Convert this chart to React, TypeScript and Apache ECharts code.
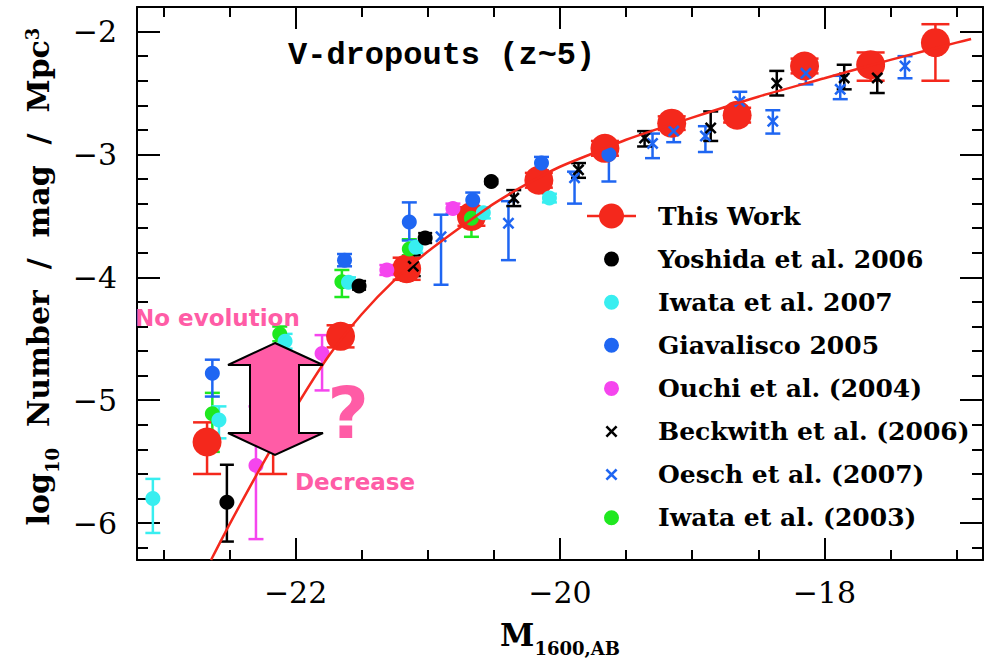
import React, { useEffect, useRef } from 'react';
import * as echarts from 'echarts';

// ---------------- data ----------------
const xMajorTicks = [-22, -20, -18];
const xMinorTicks = [-23, -22.5, -21.5, -21, -20.5, -19.5, -19, -18.5, -17.5, -17];
const yMajorTicks = [-6, -5, -4, -3, -2];
const yMinorTicks = [-6.2, -5.8, -5.6, -5.4, -5.2, -4.8, -4.6, -4.4, -4.2, -3.8, -3.6, -3.4, -3.2, -2.8, -2.6, -2.4, -2.2];

const legendNames = [
  'This Work',
  'Yoshida et al. 2006',
  'Iwata et al. 2007',
  'Giavalisco 2005',
  'Ouchi et al. (2004)',
  'Beckwith et al. (2006)',
  'Oesch et al. (2007)',
  'Iwata et al. (2003)',
];

// [M1600, log10 N, lower end of error bar, upper end of error bar]
const thisWork = [
  [-22.67, -5.34, -5.60, -5.18],
  [-22.17, -5.20, -5.60, -4.95],
  [-21.66, -4.48, -4.57, -4.39],
  [-21.16, -3.93, -4.02, -3.84],
  [-20.67, -3.505, -3.58, -3.43],
  [-20.16, -3.21, -3.27, -3.15],
  [-19.66, -2.95, -3.01, -2.89],
  [-19.155, -2.745, -2.80, -2.69],
  [-18.66, -2.68, -2.74, -2.62],
  [-18.15, -2.28, -2.34, -2.22],
  [-17.65, -2.27, -2.40, -2.17],
  [-17.16, -2.09, -2.40, -1.94],
];
const yoshida2006 = [
  [-22.52, -5.83, -6.15, -5.525],
  [-21.52, -4.07, -4.10, -4.03],
  [-21.02, -3.68, -3.72, -3.64],
  [-20.52, -3.22, -3.24, -3.20],
];
const iwata2007 = [
  [-23.08, -5.80, -6.08, -5.64],
  [-22.58, -5.16, -5.31, -5.05],
  [-22.08, -4.52, -4.58, -4.46],
  [-21.60, -4.04, -4.08, -4.00],
  [-21.09, -3.755, -3.80, -3.71],
  [-20.58, -3.475, -3.52, -3.43],
  [-20.08, -3.355, -3.39, -3.32],
];
const giavalisco2005 = [
  [-22.63, -4.78, -4.97, -4.67],
  [-21.63, -3.86, -3.91, -3.81],
  [-21.14, -3.55, -3.70, -3.39],
  [-20.66, -3.37, -3.45, -3.31],
  [-20.14, -3.07, -3.13, -3.02],
  [-19.63, -3.00, -3.22, -2.90],
];
const ouchi2004 = [
  [-22.30, -5.53, -6.13, -5.05],
  [-21.80, -4.62, -4.92, -4.47],
  [-21.31, -3.94, -3.98, -3.90],
  [-20.81, -3.44, -3.48, -3.40],
];
const beckwith2006 = [
  [-21.11, -3.91, -3.99, -3.82],
  [-20.35, -3.355, -3.42, -3.29],
  [-19.86, -3.125, -3.19, -3.07],
  [-19.36, -2.866, -2.935, -2.81],
  [-18.86, -2.785, -2.89, -2.65],
  [-18.36, -2.42, -2.52, -2.32],
  [-17.85, -2.377, -2.47, -2.27],
  [-17.60, -2.377, -2.50, -2.28],
];
const oesch2007 = [
  [-20.90, -3.67, -4.06, -3.49],
  [-20.39, -3.56, -3.86, -3.38],
  [-19.89, -3.19, -3.40, -3.14],
  [-19.30, -2.91, -3.03, -2.83],
  [-19.14, -2.81, -2.90, -2.73],
  [-18.90, -2.85, -2.98, -2.77],
  [-18.64, -2.57, -2.70, -2.49],
  [-18.39, -2.73, -2.83, -2.64],
  [-18.14, -2.34, -2.43, -2.26],
  [-17.88, -2.47, -2.55, -2.36],
  [-17.39, -2.28, -2.38, -2.20],
];
const iwata2003 = [
  [-22.63, -5.11, -5.42, -4.94],
  [-22.12, -4.46, -4.52, -4.40],
  [-21.65, -4.035, -4.16, -3.94],
  [-21.14, -3.77, -3.82, -3.69],
  [-20.67, -3.52, -3.67, -3.45],
];

// fitted luminosity function curve
const fitM = [-22.64, -22.5, -22.25, -22.0, -21.75, -21.5, -21.25, -21.0, -20.75, -20.5, -20.25, -20.0, -19.75, -19.5, -19.0, -18.5, -18.0, -17.5, -17.0, -16.89];
const fitLogN = [-6.30, -6.01, -5.52, -5.06, -4.64, -4.30, -4.02, -3.79, -3.59, -3.40, -3.24, -3.10, -2.99, -2.88, -2.70, -2.53, -2.38, -2.23, -2.09, -2.06];

// ---------------- styling ----------------
const RED = '#f4281c';
const CYAN = '#38eef0';
const BLUE = '#1f66f2';
const MAGENTA = '#f545ee';
const GREEN = '#1fe81f';
const BLACK = '#000000';
const PINK = '#ff5ca6';
const SERIF = 'DejaVu Serif';

const CROSS_PATH = 'path://M0,1.8L1.8,0L6,4.2L10.2,0L12,1.8L7.8,6L12,10.2L10.2,12L6,7.8L1.8,12L0,10.2L4.2,6Z';

const ICON_W = 83;
const ICON_H = 31;
const BOX = `M0,0M${ICON_W},${ICON_H}`;
const circleIcon = (r: number) =>
  `path://${BOX}M${41.5 + r},15.5A${r},${r},0,1,1,${41.5 - r},15.5A${r},${r},0,1,1,${41.5 + r},15.5Z`;
const crossIcon = (() => {
  const pts = [[0, 1.8], [1.8, 0], [6, 4.2], [10.2, 0], [12, 1.8], [7.8, 6], [12, 10.2], [10.2, 12], [6, 7.8], [1.8, 12], [0, 10.2], [4.2, 6]];
  const s = pts.map((p, i) => `${i === 0 ? 'M' : 'L'}${(p[0] + 35.5).toFixed(1)},${(p[1] + 9.5).toFixed(1)}`).join('');
  return `path://${BOX}${s}Z`;
})();
const thisWorkIcon =
  `path://${BOX}M17,14.25L29.1,14.25L29.1,16.75L17,16.75ZM53.9,14.25L66,14.25L66,16.75L53.9,16.75Z` +
  'M54,15.5A12.5,12.5,0,1,1,29,15.5A12.5,12.5,0,1,1,54,15.5Z';

const minus = (v: number) => (v < 0 ? '\u2212' + Math.abs(v) : String(v));

function errorSeries(name: string, data: number[][], color: string, cap: number) {
  return {
    type: 'custom',
    name,
    data,
    encode: { x: 0, y: 1 },
    silent: true,
    xAxisIndex: 0,
    yAxisIndex: 0,
    renderItem: (_params: any, api: any) => {
      const x = api.value(0);
      const a = api.coord([x, api.value(2)]);
      const b = api.coord([x, api.value(3)]);
      const style = { stroke: color, lineWidth: 2.5 };
      return {
        type: 'group',
        children: [
          { type: 'line', shape: { x1: a[0], y1: a[1], x2: b[0], y2: b[1] }, style },
          { type: 'line', shape: { x1: a[0] - cap / 2, y1: a[1], x2: a[0] + cap / 2, y2: a[1] }, style },
          { type: 'line', shape: { x1: b[0] - cap / 2, y1: b[1], x2: b[0] + cap / 2, y2: b[1] }, style },
        ],
      };
    },
  };
}

function markerSeries(name: string, data: number[][], color: string, symbol: string, size: number) {
  return {
    type: 'scatter',
    name,
    data: data.map((d) => [d[0], d[1]]),
    symbol,
    symbolSize: size,
    itemStyle: { color, opacity: 1 },
    silent: true,
    xAxisIndex: 0,
    yAxisIndex: 0,
  };
}

const axisLineStyle = { color: '#000', width: 2 };

function xAxisDef(grid: number, position: string, ticks: number[], len: number, main: boolean, labels: boolean) {
  return {
    type: 'value',
    gridIndex: grid,
    position,
    min: -23.2,
    max: -16.8,
    axisLine: { show: main, onZero: false, lineStyle: axisLineStyle },
    axisTick: { show: true, inside: true, length: len, customValues: ticks, lineStyle: { color: '#000', width: 2 } },
    axisLabel: labels
      ? { show: true, customValues: ticks, formatter: minus, margin: 17, fontFamily: SERIF, fontSize: 30, lineHeight: 30, color: '#000' }
      : { show: false },
    splitLine: { show: false },
  };
}

function yAxisDef(grid: number, position: string, ticks: number[], len: number, main: boolean, labels: boolean) {
  return {
    type: 'value',
    gridIndex: grid,
    position,
    min: -6.3,
    max: -1.8,
    axisLine: { show: main, onZero: false, lineStyle: axisLineStyle },
    axisTick: { show: true, inside: true, length: len, customValues: ticks, lineStyle: { color: '#000', width: 2 } },
    axisLabel: labels
      ? { show: true, customValues: ticks, formatter: minus, margin: 20, fontFamily: SERIF, fontSize: 30, lineHeight: 30, padding: [6, 0, 0, 0], color: '#000' }
      : { show: false },
    splitLine: { show: false },
  };
}

export default function App() {
  const ref = useRef<HTMLDivElement>(null);

  useEffect(() => {
    if (!ref.current) return;
    const chart = echarts.init(ref.current, null, { renderer: 'svg' });

    const xMain: any = xAxisDef(0, 'bottom', xMajorTicks, 22, true, true);
    xMain.name = '{M|M}{s|1600,AB}';
    xMain.nameLocation = 'middle';
    xMain.nameGap = 59;
    xMain.nameTextStyle = {
      color: '#000',
      rich: {
        M: { fontFamily: SERIF, fontWeight: 'bold', fontSize: 31, lineHeight: 30, verticalAlign: 'top', color: '#000' },
        s: { fontFamily: SERIF, fontWeight: 'bold', fontSize: 18, lineHeight: 18, padding: [20, 0, 0, 0], verticalAlign: 'top', color: '#000' },
      },
    };

    const yMain: any = yAxisDef(0, 'left', yMajorTicks, 23, true, true);
    yMain.name = '{t|log}{sub|10}{t|  Number  /  mag  /  Mpc}{sup|3}';
    yMain.nameLocation = 'middle';
    yMain.nameGap = 80;
    yMain.nameTextStyle = {
      color: '#000',
      padding: [0, 0, 0, 14],
      rich: {
        t: { fontFamily: SERIF, fontWeight: 'bold', fontSize: 30, lineHeight: 34, verticalAlign: 'top', color: '#000' },
        sub: { fontFamily: SERIF, fontWeight: 'bold', fontSize: 18, lineHeight: 18, padding: [20, 0, 0, 0], verticalAlign: 'top', color: '#000' },
        sup: { fontFamily: SERIF, fontWeight: 'bold', fontSize: 18, lineHeight: 18, verticalAlign: 'top', color: '#000' },
      },
    };

    const arrowPts = [
      [275, 343], [323, 365], [299, 365], [299, 433], [323, 433], [275, 455],
      [228, 433], [250, 433], [250, 365], [228, 365],
    ];

    const option: any = {
      animation: false,
      backgroundColor: '#ffffff',
      title: {
        text: 'V-dropouts (z~5)',
        left: 288,
        top: 39,
        padding: 0,
        textStyle: { fontFamily: "'Liberation Mono', monospace", fontWeight: 'bold', fontSize: 32, lineHeight: 32, color: '#000' },
      },
      grid: [
        { left: 137, right: 7, top: 7, bottom: 102 },
        { left: 137, right: 7, top: 7, bottom: 102 },
      ],
      xAxis: [
        xMain,
        xAxisDef(0, 'top', xMajorTicks, 22, true, false),
        xAxisDef(1, 'bottom', xMinorTicks, 10, false, false),
        xAxisDef(1, 'top', xMinorTicks, 10, false, false),
      ],
      yAxis: [
        yMain,
        yAxisDef(0, 'right', yMajorTicks, 23, true, false),
        yAxisDef(1, 'left', yMinorTicks, 11, false, false),
        yAxisDef(1, 'right', yMinorTicks, 11, false, false),
      ],
      legend: {
        orient: 'vertical',
        left: 570,
        top: 200.5,
        padding: 0,
        itemWidth: ICON_W,
        itemHeight: ICON_H,
        itemGap: 12.1,
        selectedMode: false,
        symbolKeepAspect: true,
        textStyle: { fontFamily: SERIF, fontWeight: 'bold', fontSize: 25, lineHeight: 31, color: '#000' },
        data: [
          { name: legendNames[0], icon: thisWorkIcon },
          { name: legendNames[1], icon: circleIcon(7.5) },
          { name: legendNames[2], icon: circleIcon(7.5) },
          { name: legendNames[3], icon: circleIcon(7.5) },
          { name: legendNames[4], icon: circleIcon(7.5) },
          { name: legendNames[5], icon: crossIcon },
          { name: legendNames[6], icon: crossIcon },
          { name: legendNames[7], icon: circleIcon(7.5) },
        ],
      },
      series: [
        {
          type: 'line',
          name: 'Schechter fit',
          data: fitM.map((m, i) => [m, fitLogN[i]]),
          xAxisIndex: 0,
          yAxisIndex: 0,
          symbol: 'none',
          showSymbol: false,
          smooth: 0.25,
          clip: true,
          silent: true,
          lineStyle: { color: RED, width: 2.5 },
          itemStyle: { color: RED },
        },
        errorSeries('This Work err', thisWork, RED, 28),
        markerSeries(legendNames[0], thisWork, RED, 'circle', 29),
        errorSeries('Iwata 2003 err', iwata2003, GREEN, 15),
        markerSeries(legendNames[7], iwata2003, GREEN, 'circle', 15),
        errorSeries('Giavalisco err', giavalisco2005, BLUE, 15),
        markerSeries(legendNames[3], giavalisco2005, BLUE, 'circle', 15),
        errorSeries('Iwata 2007 err', iwata2007, CYAN, 15),
        markerSeries(legendNames[2], iwata2007, CYAN, 'circle', 15),
        errorSeries('Yoshida err', yoshida2006, BLACK, 14),
        markerSeries(legendNames[1], yoshida2006, BLACK, 'circle', 15),
        errorSeries('Ouchi err', ouchi2004, MAGENTA, 15),
        markerSeries(legendNames[4], ouchi2004, MAGENTA, 'circle', 15),
        errorSeries('Oesch err', oesch2007, BLUE, 15),
        markerSeries(legendNames[6], oesch2007, BLUE, CROSS_PATH, 12),
        errorSeries('Beckwith err', beckwith2006, BLACK, 15),
        markerSeries(legendNames[5], beckwith2006, BLACK, CROSS_PATH, 12),
      ],
      graphic: [
        {
          type: 'polygon',
          z: 100,
          shape: { points: arrowPts },
          style: { fill: PINK, stroke: '#000', lineWidth: 2 },
        },
        {
          type: 'text',
          z: 101,
          x: 135,
          y: 318,
          style: { text: 'No evolution', fill: PINK, fontFamily: 'DejaVu Sans', fontWeight: 'bold', fontSize: 23, align: 'left', verticalAlign: 'middle' },
        },
        {
          type: 'text',
          z: 101,
          x: 295,
          y: 482,
          style: { text: 'Decrease', fill: PINK, fontFamily: 'DejaVu Sans', fontWeight: 'bold', fontSize: 23, align: 'left', verticalAlign: 'middle' },
        },
        {
          type: 'text',
          z: 101,
          x: 348,
          y: 413,
          style: { text: '?', fill: PINK, fontFamily: 'DejaVu Sans', fontWeight: 'bold', fontSize: 72, align: 'center', verticalAlign: 'middle' },
        },
      ],
    };

    chart.setOption(option);
    return () => {
      chart.dispose();
    };
  }, []);

  return (
    <div
      ref={ref}
      style={{ position: 'fixed', left: 0, top: 0, width: 990, height: 662, background: '#fff' }}
    />
  );
}
